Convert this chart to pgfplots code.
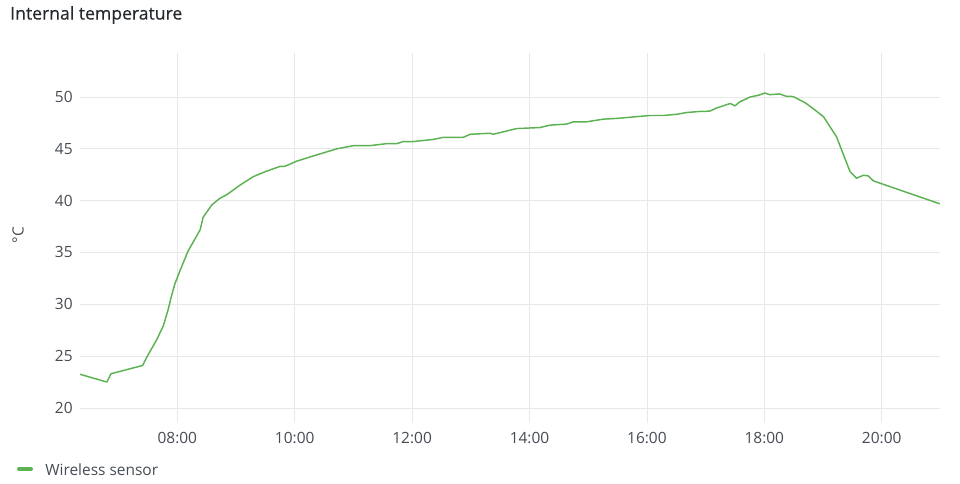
\documentclass[border=0pt]{standalone}
\usepackage{pgfplots}
\pgfplotsset{compat=1.18}
\usepackage{fontspec}
\setmainfont{Open Sans}
\definecolor{ticktext}{RGB}{70,76,84}
\definecolor{titletext}{RGB}{36,41,46}
\definecolor{gridc}{RGB}{232,232,232}
\definecolor{linegreen}{RGB}{92,178,82}
\begin{document}
\begin{tikzpicture}[x=0.75pt,y=0.75pt]
\path[use as bounding box] (-80,-61) rectangle (880,423);
\begin{axis}[
  at={(0,0)}, anchor=south west,
  scale only axis, width=645pt, height=277.5pt,
  xmin=6.342, xmax=20.993, ymin=18.55, ymax=54.24,
  axis line style={draw=none},
  xtick={8,10,12,14,16,18,20},
  xticklabels={08:00,10:00,12:00,14:00,16:00,18:00,20:00},
  ytick={20,25,30,35,40,45,50},
  grid=major,
  major grid style={draw=gridc, line width=0.6pt},
  major tick length=0pt,
  tick style={draw=none},
  /pgf/number format/assume math mode=true,
  tick label style={font=\fontsize{11.6}{13}\selectfont, text=ticktext},
  xticklabel style={yshift=-3.5pt},
  yticklabel style={xshift=-2pt},
  clip=false,
]
\addplot[linegreen, line width=1.1pt, line join=round] coordinates {
(6.342,23.25) (6.80,22.5) (6.87,23.3) (7.41,24.1) (7.48,24.9) (7.65,26.6)
(7.76,27.9) (7.84,29.4) (7.90,30.8) (7.96,32.0) (8.05,33.3) (8.18,35.1) (8.30,36.3)
(8.39,37.2) (8.44,38.4) (8.59,39.6) (8.72,40.2) (8.85,40.6) (9.07,41.5)
(9.29,42.3) (9.50,42.8) (9.75,43.3) (9.83,43.3) (10.03,43.8) (10.37,44.4)
(10.72,45.0) (11.00,45.3) (11.28,45.3) (11.57,45.5) (11.74,45.5) (11.85,45.7)
(12.02,45.7) (12.36,45.9) (12.53,46.1) (12.87,46.1) (12.99,46.4) (13.33,46.5)
(13.38,46.4) (13.78,46.95) (14.18,47.05) (14.35,47.28) (14.63,47.38) (14.75,47.6)
(14.97,47.6) (15.26,47.86) (15.49,47.93) (16.05,48.21) (16.28,48.21) (16.51,48.33)
(16.68,48.5) (16.90,48.6) (17.07,48.63) (17.19,48.94) (17.42,49.37) (17.50,49.14)
(17.58,49.52) (17.76,50.0) (17.90,50.16) (18.01,50.38) (18.09,50.22) (18.26,50.29)
(18.37,50.07) (18.49,50.04) (18.69,49.46) (18.83,48.89) (19.01,48.08) (19.23,46.16)
(19.35,44.40) (19.46,42.80) (19.57,42.16) (19.69,42.45) (19.77,42.38) (19.86,41.9)
(20.99,39.69)
};
\end{axis}
\node[anchor=west, inner sep=0pt, text=titletext, font=\fontsize{13.2}{15}\selectfont\addfontfeature{FakeBold=0.3}] at (-70,408) {Internal temperature};
\node[rotate=90, inner sep=0pt, text=ticktext, font=\fontsize{11.6}{13}\selectfont] at (-62,188) {°C};
\draw[linegreen, line width=3pt, line cap=round] (-61,-46) -- (-49,-46);
\node[anchor=west, inner sep=0pt, text=ticktext, font=\fontsize{11.6}{13}\selectfont] at (-35,-47) {Wireless sensor};
\end{tikzpicture}
\end{document}
